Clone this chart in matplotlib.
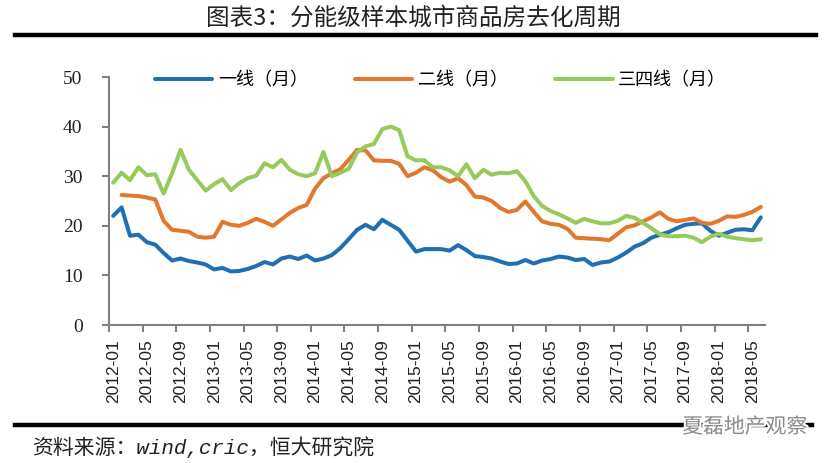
import numpy as np
import matplotlib
matplotlib.use("Agg")
import matplotlib.pyplot as plt
import matplotlib.patheffects as pe

plt.rcParams['font.family'] = ['Noto Sans CJK SC', 'DejaVu Sans']

# monthly, 2012-01 .. 2018-06
months = [f"{y}-{m:02d}" for y in range(2012, 2019) for m in range(1, 13)][:78]

tier1 = [22.0, 23.7, 18.0, 18.2, 16.7, 16.2, 14.5, 13.0, 13.4, 12.9,
         12.6, 12.2, 11.2, 11.5, 10.8, 10.9, 11.3, 11.9, 12.7, 12.2,
         13.4, 13.8, 13.3, 14.0, 13.0, 13.4, 14.1, 15.5, 17.3, 19.2,
         20.2, 19.3, 21.2, 20.2, 19.2, 17.0, 14.8, 15.3, 15.3, 15.3,
         15.0, 16.1, 15.1, 13.9, 13.7, 13.4, 12.8, 12.3, 12.4, 13.1,
         12.4, 13.0, 13.3, 13.8, 13.6, 13.1, 13.3, 12.1, 12.6, 12.8,
         13.6, 14.6, 15.8, 16.5, 17.6, 18.2, 18.7, 19.5, 20.2, 20.4,
         20.5, 19.0, 18.0, 18.6, 19.2, 19.3, 19.1, 21.7]

tier2 = [np.nan, 26.2, 26.1, 26.0, 25.7, 25.3, 21.0, 19.2, 19.0, 18.8,
         17.8, 17.6, 17.8, 20.8, 20.2, 20.0, 20.6, 21.4, 20.8, 20.0,
         21.3, 22.6, 23.6, 24.2, 27.5, 29.6, 30.6, 31.4, 33.3, 35.3,
         35.2, 33.2, 33.1, 33.1, 32.5, 30.0, 30.7, 31.8, 31.2, 29.8,
         28.9, 29.6, 28.2, 25.9, 25.7, 25.0, 23.6, 22.8, 23.2, 24.9,
         22.8, 20.9, 20.4, 20.2, 19.4, 17.6, 17.5, 17.4, 17.3, 17.1,
         18.4, 19.7, 20.1, 20.9, 21.7, 22.7, 21.4, 20.9, 21.2, 21.5,
         20.6, 20.4, 21.0, 21.9, 21.8, 22.2, 22.8, 23.8]

tier34 = [28.7, 30.7, 29.2, 31.8, 30.2, 30.4, 26.5, 30.6, 35.3, 31.3,
          29.2, 27.1, 28.4, 29.4, 27.2, 28.6, 29.6, 30.1, 32.6, 31.8,
          33.3, 31.3, 30.4, 30.0, 30.6, 34.9, 30.0, 30.7, 31.5, 34.8,
          36.0, 36.5, 39.5, 40.0, 39.3, 34.0, 33.2, 33.2, 31.8, 31.8,
          31.2, 30.0, 32.4, 29.6, 31.3, 30.3, 30.7, 30.6, 31.0, 29.0,
          26.0, 24.0, 23.0, 22.3, 21.5, 20.6, 21.4, 20.9, 20.5, 20.5,
          21.0, 22.0, 21.6, 20.6, 19.5, 18.3, 17.9, 17.9, 18.0, 17.6,
          16.7, 17.8, 18.4, 17.8, 17.5, 17.3, 17.1, 17.3]

labels = ['一线（月）', '二线（月）', '三四线（月）']
colors = ['#1f6fb2', '#e2782e', '#96cb5b']

fig = plt.figure(figsize=(8.27, 4.63), dpi=100)
ax = fig.add_axes([109/827, 1-325/463, (765-109)/827, (325-77)/463])

x = np.arange(len(months))
for s, lab, c in zip([tier1, tier2, tier34], labels, colors):
    ax.plot(x, s, color=c, lw=2.9, label=lab,
            solid_capstyle='round', solid_joinstyle='round')

ax.set_xlim(-0.5, len(months) - 0.5)
ax.set_ylim(0, 50)
ax.set_yticks(range(0, 51, 10))

# tick marks between categories, labels on the categories
ax.set_xticks(np.arange(-0.5, len(months) - 1, 4))
ax.set_xticklabels([])
ax.set_xticks(np.arange(0, len(months), 4), minor=True)
ax.set_xticklabels(months[::4], minor=True, rotation=90,
                   family='Liberation Sans', fontsize=12.5, color='#222222')
ax.tick_params(axis='x', which='major', length=5, width=1.5, color='#808080')
ax.tick_params(axis='x', which='minor', length=0, pad=10)
ax.tick_params(axis='y', length=5, width=1.5, color='#808080', pad=14)
for t in ax.get_yticklabels():
    t.set_family('Liberation Serif')
    t.set_fontsize(14)
    t.set_color('#222222')

for side in ['top', 'right']:
    ax.spines[side].set_visible(False)
for side in ['left', 'bottom']:
    ax.spines[side].set_color('#808080')
    ax.spines[side].set_linewidth(1.5)

ax.legend(loc='center', bbox_to_anchor=(0.505, 0.988), ncol=3, frameon=False,
          fontsize=13, handlelength=3.2, handletextpad=0.3, columnspacing=2.6)

fig.text(0.5, 0.961, '图表3：分能级样本城市商品房去化周期', ha='center', va='center',
         fontsize=17, fontweight='light', color='#222222')
fig.add_artist(plt.Line2D([0.018, 0.987], [0.924, 0.924], color='black', lw=3.2))
fig.add_artist(plt.Line2D([0.018, 0.982], [0.082, 0.082], color='black', lw=3.2))
fig.text(0.039, 0.035, '资料来源：wind,cric，恒大研究院', ha='left', va='center',
         fontsize=15, style='italic', color='#222222',
         family=['Liberation Mono', 'Noto Sans CJK SC'])
fig.text(0.825, 0.078, '夏磊地产观察', ha='left', va='center', fontsize=15,
         color='#8a8a8a',
         path_effects=[pe.withStroke(linewidth=3, foreground='white')])

fig.savefig('out.png', dpi=100)
